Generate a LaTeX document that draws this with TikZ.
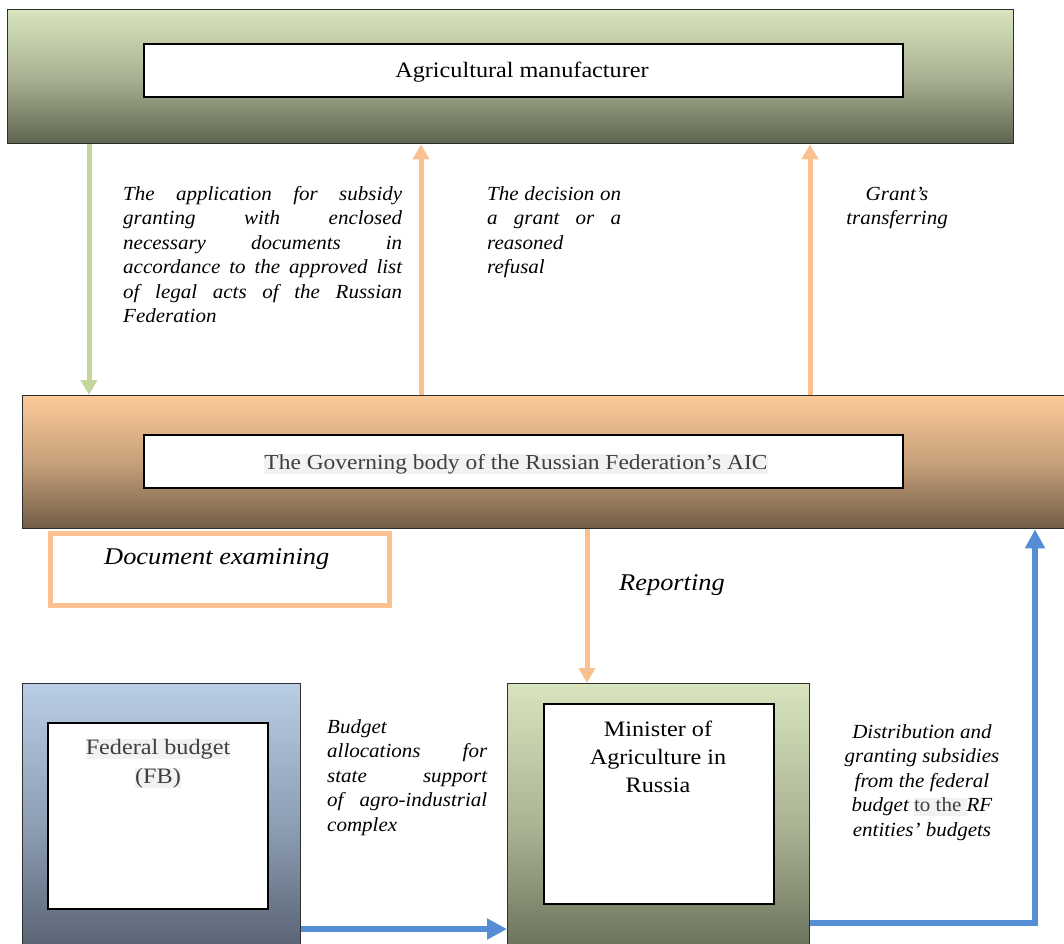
\documentclass[tikz,border=0pt]{standalone}
\usepackage{fontspec}
\setmainfont{Liberation Serif}[FakeStretch=1.1]
\newfontfamily\labelfont{Liberation Serif}[FakeStretch=1.05]
\usetikzlibrary{arrows.meta}
\definecolor{greenT}{HTML}{D8E4BE}
\definecolor{greenM}{HTML}{A9B293}
\definecolor{greenB}{HTML}{5E6550}
\definecolor{orangeT}{HTML}{FCCA99}
\definecolor{orangeM}{HTML}{C7A07A}
\definecolor{orangeB}{HTML}{725D47}
\definecolor{blueT}{HTML}{B9CDE5}
\definecolor{blueM}{HTML}{8C9DB2}
\definecolor{blueB}{HTML}{4E5766}
\definecolor{arrOr}{HTML}{FAC090}
\definecolor{arrGr}{HTML}{C3D69B}
\definecolor{arrBl}{HTML}{558ED5}
\definecolor{hl}{HTML}{F2F2F2}
\definecolor{gtext}{HTML}{3F3F3F}
\definecolor{boxline}{HTML}{2E2E2E}
\newcommand{\jline}[1]{\makebox[\linewidth][s]{#1}}
\newcommand{\hlbox}[1]{{\setlength{\fboxsep}{0pt}\colorbox{hl}{\vphantom{Ag(}#1}}}
\tikzset{
  outerbox/.style={draw=boxline, line width=1.3pt, anchor=north west, inner sep=0pt},
  innerbox/.style={draw=black, fill=white, line width=2pt, anchor=north west, inner sep=0pt},
  greenshade/.style={top color=greenT, bottom color=greenB, middle color=greenM},
  orangeshade/.style={top color=orangeT, bottom color=orangeB, middle color=orangeM},
  blueshade/.style={top color=blueT, bottom color=blueB, middle color=blueM},
  label/.style={anchor=base west, inner sep=0pt, font=\labelfont\fontsize{20}{24.5}\selectfont\itshape},
  title/.style={inner sep=0pt, font=\fontsize{22}{28}\selectfont},
  orarrow/.style={draw=arrOr, line width=5pt, -{Triangle[width=16pt,length=15pt]}},
  grarrow/.style={draw=arrGr, line width=5pt, -{Triangle[width=16pt,length=15pt]}},
  blarrow/.style={draw=arrBl, line width=6.5pt, -{Triangle[width=20pt,length=20pt]}},
}
\begin{document}
\begin{tikzpicture}[x=1pt,y=-1pt]
\useasboundingbox (0,0) rectangle (1064,943);
% outer boxes
\node[outerbox, greenshade, minimum width=1006pt, minimum height=134pt] (top) at (7,9) {};
\node[innerbox, minimum width=759pt, minimum height=53pt] (topin) at (143,43) {};
\node[title, anchor=base] (toptext) at (522,77) {Agricultural manufacturer};

\node[outerbox, orangeshade, minimum width=1060pt, minimum height=133pt] (mid) at (22,395) {};
\node[innerbox, minimum width=759pt, minimum height=53pt] (midin) at (143,434) {};
\node[title, anchor=base, text=gtext, font=\fontsize{21.3}{28}\selectfont] (midtext) at (516,469) {\hlbox{The Governing body of the Russian Federation’s AIC}};

\node[draw=arrOr, line width=4.5pt, anchor=north west, inner sep=0pt, minimum width=339pt, minimum height=72pt] (doc) at (48,531) {};
\node[inner sep=0pt, anchor=base west, font=\fontsize{24}{28}\selectfont\itshape] (doctext) at (104,564) {Document examining};

\node[outerbox, blueshade, minimum width=278pt, minimum height=290pt] (fb) at (22,683) {};
\node[innerbox, minimum width=220pt, minimum height=186pt] (fbin) at (47,722) {};
\node[title, anchor=base, text=gtext] (fbtext) at (158,754) {\parbox[t]{200pt}{\centering\hlbox{Federal budget}\\[1pt]\hlbox{(FB)}}};

\node[outerbox, greenshade, minimum width=302pt, minimum height=290pt] (min) at (507,683) {};
\node[innerbox, minimum width=230pt, minimum height=200pt] (minin) at (543,703) {};
\node[title, anchor=base] (mintext) at (658,736) {\parbox[t]{220pt}{\centering Minister of\\ Agriculture in\\ Russia}};

% labels
\node[label] (l1) at (123,200) {\parbox[t]{279pt}{%
\jline{The application for subsidy}\\
\jline{granting with enclosed}\\
\jline{necessary documents in}\\
\jline{accordance to the approved list}\\
\jline{of legal acts of the Russian}\\
Federation}};
\node[label] (l2) at (487,200) {\parbox[t]{134pt}{%
\jline{The decision on}\\
\jline{a grant or a}\\
reasoned\\
refusal}};
\node[label, anchor=base] (l3) at (897,200) {\parbox[t]{160pt}{\centering Grant’s\\ transferring}};
\node[inner sep=0pt, anchor=base west, font=\fontsize{24}{28}\selectfont\itshape] (rep) at (619,590) {Reporting};
\node[label] (l4) at (327,733) {\parbox[t]{160pt}{%
Budget\\
\jline{allocations for}\\
\jline{state support}\\
\jline{of agro-industrial}\\
complex}};
\node[label, anchor=base] (l5) at (922,738) {\parbox[t]{200pt}{\centering
Distribution and\\
granting subsidies\\
from the federal\\
budget {\upshape\color{gtext}\hlbox{to the }}RF\\
entities’ budgets}};

% connectors
\coordinate (xg) at (89,0);
\coordinate (xo1) at (421,0);
\coordinate (xo2) at (810,0);
\coordinate (xr) at (587,0);
\coordinate (xb) at (1035,0);
\coordinate (yb1) at (0,929);
\coordinate (yb2) at (0,922.5);
\draw[grarrow] (xg |- top.south) -- (xg |- mid.north);
\draw[orarrow] (xo1 |- mid.north) -- (xo1 |- top.south);
\draw[orarrow] (xo2 |- mid.north) -- (xo2 |- top.south);
\draw[orarrow] (xr |- mid.south) -- (xr |- min.north);
\draw[blarrow] (fb.east |- yb1) -- (min.west |- yb1);
\draw[blarrow, line width=6pt, -{Triangle[width=19pt,length=19pt]}] (min.east |- yb2) -| (xb |- mid.south);
\end{tikzpicture}
\end{document}
